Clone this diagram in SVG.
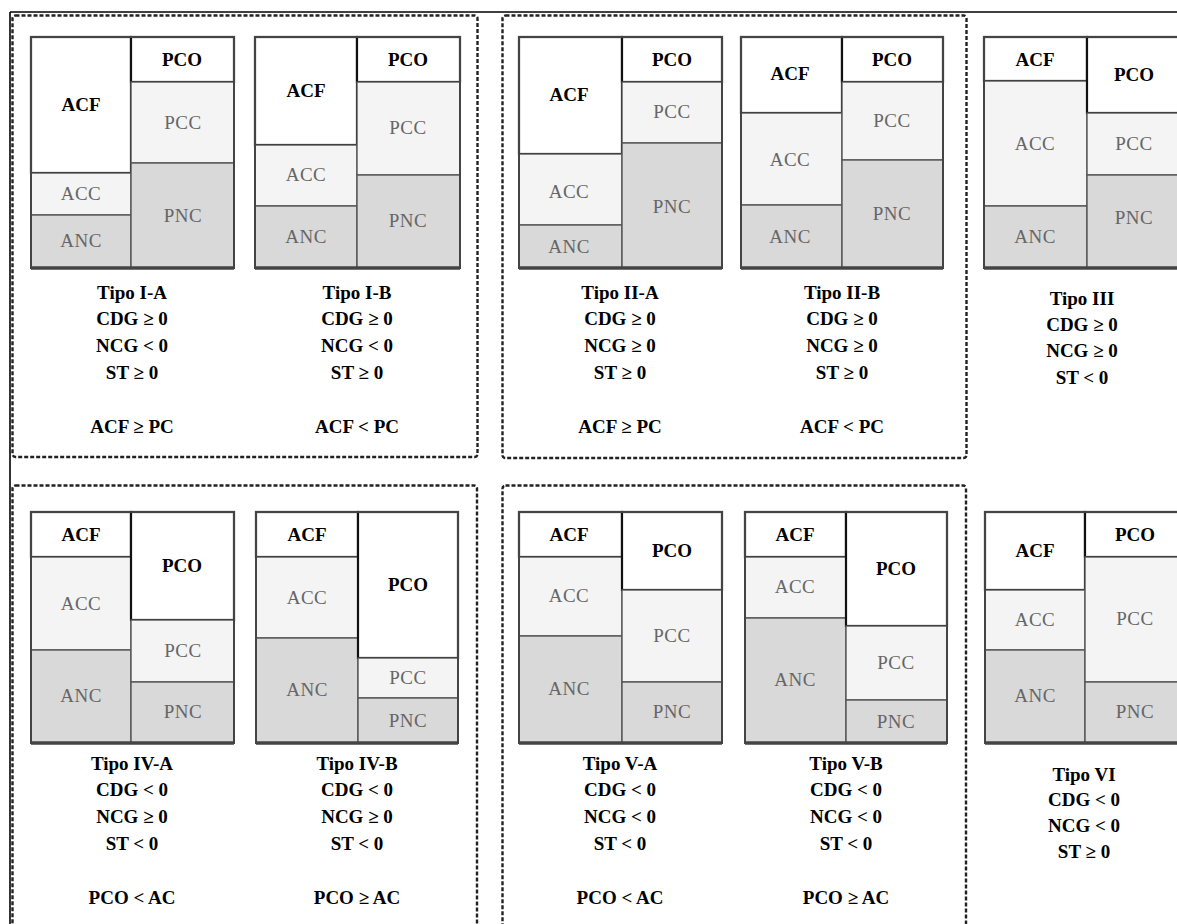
<svg xmlns="http://www.w3.org/2000/svg" width="1177" height="924" viewBox="0 0 1177 924">
<style>
.bg{fill:#ffffff}
.w{fill:#ffffff;stroke:#111;stroke-width:2.2}
.l{fill:#f4f4f4;stroke:#555;stroke-width:1.4}
.g{fill:#d9d9d9;stroke:#555;stroke-width:1.4}
.o{fill:none;stroke:#444;stroke-width:2}
.base{stroke:#444;stroke-width:3.5}
.dash{fill:none;stroke:#222;stroke-width:2.4;stroke-dasharray:4 2}
.frame{stroke:#000;stroke-width:1.6}
.b{font-family:"Liberation Serif",serif;font-weight:bold;font-size:19px;fill:#000;text-anchor:middle}
.r{font-family:"Liberation Serif",serif;font-size:19px;fill:#666;text-anchor:middle;letter-spacing:0.5px}
.c{font-family:"Liberation Serif",serif;font-weight:bold;font-size:19px;fill:#000;text-anchor:middle}
</style>
<rect class="bg" x="0" y="0" width="1177" height="924"/>
<g id="connectors">
<line class="frame" x1="10" y1="12" x2="1177" y2="12"/>
<line class="frame" x1="10" y1="12" x2="10" y2="924"/>
<rect class="dash" x="12.5" y="15.5" width="465" height="441.5" rx="3"/>
<rect class="dash" x="502.5" y="15.5" width="464" height="442.5" rx="3"/>
<rect class="dash" x="12.5" y="485.5" width="464.5" height="460" rx="3"/>
<rect class="dash" x="502.5" y="485.5" width="463.5" height="460" rx="3"/>
</g>

<g id="tipo-IA">
<rect class="w" x="31" y="37" width="100" height="136"/>
<rect class="l" x="31" y="173" width="100" height="42"/>
<rect class="g" x="31" y="215" width="100" height="53"/>
<rect class="w" x="131" y="37" width="103" height="45"/>
<rect class="l" x="131" y="82" width="103" height="81"/>
<rect class="g" x="131" y="163" width="103" height="105"/>
<rect class="o" x="31" y="37" width="203" height="231"/>
<line class="base" x1="31" y1="268" x2="234" y2="268"/>
<text class="b" x="81" y="111">ACF</text>
<text class="r" x="81" y="200">ACC</text>
<text class="r" x="81" y="247">ANC</text>
<text class="b" x="182" y="66">PCO</text>
<text class="r" x="183" y="129">PCC</text>
<text class="r" x="183" y="222">PNC</text>
<text class="c" x="132" y="299">Tipo I-A</text>
<text class="c" x="132" y="325">CDG ≥ 0</text>
<text class="c" x="132" y="352">NCG &lt; 0</text>
<text class="c" x="132" y="379">ST ≥ 0</text>
<text class="c" x="132" y="433">ACF ≥ PC</text>
</g>

<g id="tipo-IB">
<rect class="w" x="255" y="37" width="102" height="108"/>
<rect class="l" x="255" y="145" width="102" height="61"/>
<rect class="g" x="255" y="206" width="102" height="62"/>
<rect class="w" x="357" y="37" width="103" height="45"/>
<rect class="l" x="357" y="82" width="103" height="93"/>
<rect class="g" x="357" y="175" width="103" height="93"/>
<rect class="o" x="255" y="37" width="205" height="231"/>
<line class="base" x1="255" y1="268" x2="460" y2="268"/>
<text class="b" x="306" y="97">ACF</text>
<text class="r" x="306" y="181">ACC</text>
<text class="r" x="306" y="243">ANC</text>
<text class="b" x="408" y="66">PCO</text>
<text class="r" x="408" y="134">PCC</text>
<text class="r" x="408" y="227">PNC</text>
<text class="c" x="357" y="299">Tipo I-B</text>
<text class="c" x="357" y="325">CDG ≥ 0</text>
<text class="c" x="357" y="352">NCG &lt; 0</text>
<text class="c" x="357" y="379">ST ≥ 0</text>
<text class="c" x="357" y="433">ACF &lt; PC</text>
</g>

<g id="tipo-IIA">
<rect class="w" x="519" y="37" width="103" height="117"/>
<rect class="l" x="519" y="154" width="103" height="71"/>
<rect class="g" x="519" y="225" width="103" height="43"/>
<rect class="w" x="622" y="37" width="100" height="45"/>
<rect class="l" x="622" y="82" width="100" height="61"/>
<rect class="g" x="622" y="143" width="100" height="125"/>
<rect class="o" x="519" y="37" width="203" height="231"/>
<line class="base" x1="519" y1="268" x2="722" y2="268"/>
<text class="b" x="569" y="101">ACF</text>
<text class="r" x="569" y="198">ACC</text>
<text class="r" x="569" y="253">ANC</text>
<text class="b" x="672" y="66">PCO</text>
<text class="r" x="672" y="118">PCC</text>
<text class="r" x="672" y="213">PNC</text>
<text class="c" x="620" y="299">Tipo II-A</text>
<text class="c" x="620" y="325">CDG ≥ 0</text>
<text class="c" x="620" y="352">NCG ≥ 0</text>
<text class="c" x="620" y="379">ST ≥ 0</text>
<text class="c" x="620" y="433">ACF ≥ PC</text>
</g>

<g id="tipo-IIB">
<rect class="w" x="741" y="37" width="101" height="76"/>
<rect class="l" x="741" y="113" width="101" height="92"/>
<rect class="g" x="741" y="205" width="101" height="63"/>
<rect class="w" x="842" y="37" width="101" height="45"/>
<rect class="l" x="842" y="82" width="101" height="78"/>
<rect class="g" x="842" y="160" width="101" height="108"/>
<rect class="o" x="741" y="37" width="202" height="231"/>
<line class="base" x1="741" y1="268" x2="943" y2="268"/>
<text class="b" x="790" y="80">ACF</text>
<text class="r" x="790" y="166">ACC</text>
<text class="r" x="790" y="243">ANC</text>
<text class="b" x="892" y="66">PCO</text>
<text class="r" x="892" y="127">PCC</text>
<text class="r" x="892" y="220">PNC</text>
<text class="c" x="842" y="299">Tipo II-B</text>
<text class="c" x="842" y="325">CDG ≥ 0</text>
<text class="c" x="842" y="352">NCG ≥ 0</text>
<text class="c" x="842" y="379">ST ≥ 0</text>
<text class="c" x="842" y="433">ACF &lt; PC</text>
</g>

<g id="tipo-III">
<rect class="w" x="984" y="37" width="103" height="44"/>
<rect class="l" x="984" y="81" width="103" height="125"/>
<rect class="g" x="984" y="206" width="103" height="62"/>
<rect class="w" x="1087" y="37" width="96" height="76"/>
<rect class="l" x="1087" y="113" width="96" height="62"/>
<rect class="g" x="1087" y="175" width="96" height="93"/>
<rect class="o" x="984" y="37" width="199" height="231"/>
<line class="base" x1="984" y1="268" x2="1183" y2="268"/>
<text class="b" x="1035" y="66">ACF</text>
<text class="r" x="1035" y="150">ACC</text>
<text class="r" x="1035" y="243">ANC</text>
<text class="b" x="1134" y="81">PCO</text>
<text class="r" x="1134" y="150">PCC</text>
<text class="r" x="1134" y="224">PNC</text>
<text class="c" x="1082" y="305">Tipo III</text>
<text class="c" x="1082" y="331">CDG ≥ 0</text>
<text class="c" x="1082" y="357">NCG ≥ 0</text>
<text class="c" x="1082" y="384">ST &lt; 0</text>
</g>

<g id="tipo-IVA">
<rect class="w" x="31" y="512" width="100" height="45"/>
<rect class="l" x="31" y="557" width="100" height="93"/>
<rect class="g" x="31" y="650" width="100" height="93"/>
<rect class="w" x="131" y="512" width="103" height="108"/>
<rect class="l" x="131" y="620" width="103" height="62"/>
<rect class="g" x="131" y="682" width="103" height="61"/>
<rect class="o" x="31" y="512" width="203" height="231"/>
<line class="base" x1="31" y1="743" x2="234" y2="743"/>
<text class="b" x="81" y="541">ACF</text>
<text class="r" x="81" y="610">ACC</text>
<text class="r" x="81" y="702">ANC</text>
<text class="b" x="182" y="572">PCO</text>
<text class="r" x="183" y="657">PCC</text>
<text class="r" x="183" y="718">PNC</text>
<text class="c" x="132" y="770">Tipo IV-A</text>
<text class="c" x="132" y="796">CDG &lt; 0</text>
<text class="c" x="132" y="823">NCG ≥ 0</text>
<text class="c" x="132" y="850">ST &lt; 0</text>
<text class="c" x="132" y="904">PCO &lt; AC</text>
</g>

<g id="tipo-IVB">
<rect class="w" x="256" y="512" width="102" height="45"/>
<rect class="l" x="256" y="557" width="102" height="81"/>
<rect class="g" x="256" y="638" width="102" height="105"/>
<rect class="w" x="358" y="512" width="100" height="146"/>
<rect class="l" x="358" y="658" width="100" height="40"/>
<rect class="g" x="358" y="698" width="100" height="45"/>
<rect class="o" x="256" y="512" width="202" height="231"/>
<line class="base" x1="256" y1="743" x2="458" y2="743"/>
<text class="b" x="307" y="541">ACF</text>
<text class="r" x="307" y="604">ACC</text>
<text class="r" x="307" y="696">ANC</text>
<text class="b" x="408" y="591">PCO</text>
<text class="r" x="408" y="684">PCC</text>
<text class="r" x="408" y="727">PNC</text>
<text class="c" x="357" y="770">Tipo IV-B</text>
<text class="c" x="357" y="796">CDG &lt; 0</text>
<text class="c" x="357" y="823">NCG ≥ 0</text>
<text class="c" x="357" y="850">ST &lt; 0</text>
<text class="c" x="357" y="904">PCO ≥ AC</text>
</g>

<g id="tipo-VA">
<rect class="w" x="519" y="512" width="103" height="45"/>
<rect class="l" x="519" y="557" width="103" height="79"/>
<rect class="g" x="519" y="636" width="103" height="107"/>
<rect class="w" x="622" y="512" width="100" height="78"/>
<rect class="l" x="622" y="590" width="100" height="92"/>
<rect class="g" x="622" y="682" width="100" height="61"/>
<rect class="o" x="519" y="512" width="203" height="231"/>
<line class="base" x1="519" y1="743" x2="722" y2="743"/>
<text class="b" x="569" y="541">ACF</text>
<text class="r" x="569" y="602">ACC</text>
<text class="r" x="569" y="695">ANC</text>
<text class="b" x="672" y="557">PCO</text>
<text class="r" x="672" y="642">PCC</text>
<text class="r" x="672" y="718">PNC</text>
<text class="c" x="620" y="770">Tipo V-A</text>
<text class="c" x="620" y="796">CDG &lt; 0</text>
<text class="c" x="620" y="823">NCG &lt; 0</text>
<text class="c" x="620" y="850">ST &lt; 0</text>
<text class="c" x="620" y="904">PCO &lt; AC</text>
</g>

<g id="tipo-VB">
<rect class="w" x="745" y="512" width="101" height="45"/>
<rect class="l" x="745" y="557" width="101" height="61"/>
<rect class="g" x="745" y="618" width="101" height="125"/>
<rect class="w" x="846" y="512" width="101" height="114"/>
<rect class="l" x="846" y="626" width="101" height="74"/>
<rect class="g" x="846" y="700" width="101" height="43"/>
<rect class="o" x="745" y="512" width="202" height="231"/>
<line class="base" x1="745" y1="743" x2="947" y2="743"/>
<text class="b" x="795" y="541">ACF</text>
<text class="r" x="795" y="593">ACC</text>
<text class="r" x="795" y="686">ANC</text>
<text class="b" x="896" y="575">PCO</text>
<text class="r" x="896" y="669">PCC</text>
<text class="r" x="896" y="728">PNC</text>
<text class="c" x="846" y="770">Tipo V-B</text>
<text class="c" x="846" y="796">CDG &lt; 0</text>
<text class="c" x="846" y="823">NCG &lt; 0</text>
<text class="c" x="846" y="850">ST &lt; 0</text>
<text class="c" x="846" y="904">PCO ≥ AC</text>
</g>

<g id="tipo-VI">
<rect class="w" x="985" y="512" width="100" height="78"/>
<rect class="l" x="985" y="590" width="100" height="60"/>
<rect class="g" x="985" y="650" width="100" height="93"/>
<rect class="w" x="1085" y="512" width="100" height="45"/>
<rect class="l" x="1085" y="557" width="100" height="125"/>
<rect class="g" x="1085" y="682" width="100" height="61"/>
<rect class="o" x="985" y="512" width="200" height="231"/>
<line class="base" x1="985" y1="743" x2="1185" y2="743"/>
<text class="b" x="1035" y="557">ACF</text>
<text class="r" x="1035" y="626">ACC</text>
<text class="r" x="1035" y="702">ANC</text>
<text class="b" x="1135" y="541">PCO</text>
<text class="r" x="1135" y="625">PCC</text>
<text class="r" x="1135" y="718">PNC</text>
<text class="c" x="1084" y="781">Tipo VI</text>
<text class="c" x="1084" y="806">CDG &lt; 0</text>
<text class="c" x="1084" y="832">NCG &lt; 0</text>
<text class="c" x="1084" y="858">ST ≥ 0</text>
</g>
</svg>
